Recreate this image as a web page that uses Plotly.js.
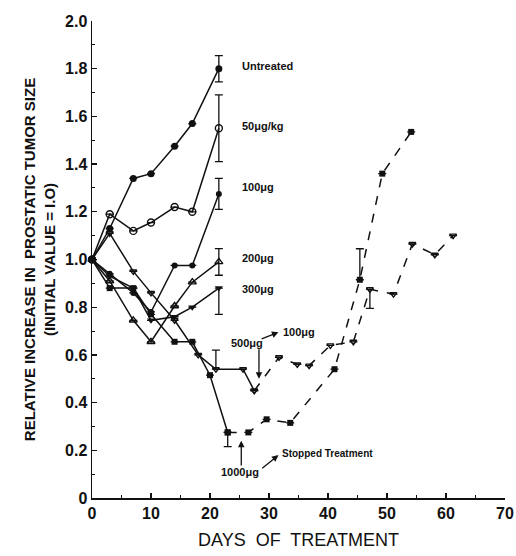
<!DOCTYPE html>
<html>
<head>
<meta charset="utf-8">
<script src="https://cdn.plot.ly/plotly-3.0.1.min.js"></script>
<style>html,body{margin:0;padding:0;background:#fff;}#chart{width:516px;height:556px;}</style>
</head>
<body>
<div id="chart"></div>
<script>
// ---- data ----
const untreatedDays = [0, 3, 7, 10, 14, 17, 21.5];
const untreatedVals = [1.0, 1.13, 1.34, 1.36, 1.475, 1.57, 1.80];
const untreatedErr  = [0, 0, 0, 0, 0, 0, 0.055];

const d50Days = [0, 3, 7, 10, 14, 17, 21.5];
const d50Vals = [1.0, 1.19, 1.12, 1.155, 1.22, 1.20, 1.55];
const d50Err  = [0, 0, 0, 0, 0, 0, 0.14];

const d100Days = [0, 3, 7, 10, 14, 17, 21.5];
const d100Vals = [1.0, 0.94, 0.86, 0.78, 0.975, 0.975, 1.275];
const d100Err  = [0, 0, 0, 0, 0, 0, 0.065];

const d200Days = [0, 3, 7, 10, 14, 17, 21.5];
const d200Vals = [1.0, 0.91, 0.745, 0.655, 0.805, 0.905, 0.99];
const d200Err  = [0, 0, 0, 0, 0, 0, 0.056];

const d300Days = [0, 3, 7, 10, 14, 17, 21.5];
const d300Vals = [1.0, 0.93, 0.88, 0.745, 0.76, 0.80, 0.88];
const d300ErrMinus = [0, 0, 0, 0, 0, 0, 0.11];

const d500Days = [0, 3, 7, 10, 14, 18, 21, 25.6, 27.5];
const d500Vals = [1.0, 1.11, 0.95, 0.86, 0.745, 0.60, 0.54, 0.54, 0.45];
const d500ErrPlus = [0, 0, 0, 0, 0, 0, 0.08, 0, 0];

const d500to100Days = [27.5, 31.7, 34.8, 36.8, 40.4, 44.3, 47.1, 51.1, 54.3, 58.1, 61.2];
const d500to100Vals = [0.45, 0.59, 0.56, 0.555, 0.64, 0.655, 0.875, 0.855, 1.065, 1.02, 1.10];
const d500to100ErrMinus = [0, 0, 0, 0, 0, 0, 0.08, 0, 0, 0, 0];

const d1000Days = [0, 3, 7, 10, 14, 17, 20, 23];
const d1000Vals = [1.0, 0.88, 0.88, 0.77, 0.655, 0.655, 0.515, 0.275];
const d1000ErrMinus = [0, 0, 0, 0, 0, 0, 0, 0.06];

const stoppedDays = [23, 26.5, 29.6, 33.6, 41.1, 45.4, 49.2, 54.1];
const stoppedVals = [0.275, 0.275, 0.33, 0.315, 0.54, 0.915, 1.36, 1.535];
const stoppedErrPlus = [0, 0, 0, 0, 0, 0.13, 0, 0];

const yTickVals = [0, 0.2, 0.4, 0.6, 0.8, 1.0, 1.2, 1.4, 1.6, 1.8, 2.0];
const yTickText = ['0', '0.2', '0.4', '0.6', '0.8', '1.0', '1.2', '1.4', '1.6', '1.8', '2.0'];
const xTickVals = [0, 10, 20, 30, 40, 50, 60, 70];
const xTickText = ['0', '10', '20', '30', '40', '50', '60', '70'];

// ---- drawing ----
const K = '#111';
function errSym(arr) {
  return {type: 'data', array: arr, symmetric: true, visible: true, width: 4, thickness: 1.3, color: K};
}
function errAsym(plus, minus) {
  return {type: 'data', array: plus, arrayminus: minus, symmetric: false, visible: true, width: 4, thickness: 1.3, color: K};
}
const zeros = n => new Array(n).fill(0);

function tr(x, y, sym, size, dash, err, name) {
  const open = sym.indexOf('open') >= 0;
  return {
    x: x, y: y, type: 'scatter', mode: 'lines+markers', name: name,
    line: {color: K, width: 1.5, dash: dash},
    marker: {symbol: sym, size: size, color: K, line: {color: K, width: open ? 1.4 : 0}},
    error_y: err, cliponaxis: false, showlegend: false
  };
}

const data = [
  tr(d1000Days, d1000Vals, 'square', 6, 'solid', errAsym(zeros(d1000Days.length), d1000ErrMinus), '1000µg'),
  tr(stoppedDays, stoppedVals, 'square', 6, 'dash', errAsym(stoppedErrPlus, zeros(stoppedDays.length)), 'stopped'),
  tr(d500Days, d500Vals, 'triangle-down-open', 6, 'solid', errAsym(d500ErrPlus, zeros(d500Days.length)), '500µg'),
  tr(d500to100Days, d500to100Vals, 'triangle-down-open', 6, 'dash', errAsym(zeros(d500to100Days.length), d500to100ErrMinus), '500→100µg'),
  tr(d300Days, d300Vals, 'triangle-down', 7, 'solid', errAsym(zeros(d300Days.length), d300ErrMinus), '300µg'),
  tr(d200Days, d200Vals, 'triangle-up-open', 7, 'solid', errSym(d200Err), '200µg'),
  tr(d100Days, d100Vals, 'circle', 6, 'solid', errSym(d100Err), '100µg'),
  tr(d50Days, d50Vals, 'circle-open', 7, 'solid', errSym(d50Err), '50µg/kg'),
  tr(untreatedDays, untreatedVals, 'circle', 7, 'solid', errSym(untreatedErr), 'Untreated')
];

const lblFont = {family: 'Liberation Sans, Arial, sans-serif', size: 11, color: K, weight: 'bold'};
function lbl(x, y, text) {
  return {x: x, y: y, xref: 'x', yref: 'y', text: text, showarrow: false, xanchor: 'left', yanchor: 'middle', font: lblFont};
}

const layout = {
  width: 516, height: 556,
  margin: {l: 92, r: 11, t: 21, b: 58},
  paper_bgcolor: '#fff', plot_bgcolor: '#fff',
  font: {family: 'Liberation Sans, Arial, sans-serif', color: K},
  xaxis: {
    range: [0, 70], tickvals: xTickVals, ticktext: xTickText,
    showgrid: false, zeroline: false, showline: true, linecolor: K, linewidth: 1.5,
    ticks: 'inside', ticklen: 5, tickwidth: 1.3, tickcolor: K,
    minor: {dtick: 5, ticks: 'inside', ticklen: 3, tickcolor: K, tickwidth: 1},
    tickfont: {size: 16, color: K, weight: 'bold'},
    title: {text: 'DAYS  OF  TREATMENT', font: {size: 18, color: K}, standoff: 12}
  },
  yaxis: {
    range: [0, 2.0], tickvals: yTickVals, ticktext: yTickText,
    showgrid: false, zeroline: false, showline: true, linecolor: K, linewidth: 1.5,
    ticks: 'inside', ticklen: 5, tickwidth: 1.3, tickcolor: K,
    minor: {dtick: 0.1, ticks: 'inside', ticklen: 3, tickcolor: K, tickwidth: 1},
    tickfont: {size: 16, color: K, weight: 'bold'},
    title: {text: 'RELATIVE INCREASE IN  PROSTATIC TUMOR SIZE<br>(INITIAL VALUE = I.O)', font: {size: 15, color: K, weight: 'bold'}, standoff: 6}
  },
  annotations: [
    lbl(25, 1.81, 'Untreated'),
    lbl(25, 1.56, '50μg/kg'),
    lbl(25, 1.305, '100μg'),
    lbl(25, 1.005, '200μg'),
    lbl(25, 0.875, '300μg'),
    lbl(23.3, 0.65, '500μg'),
    lbl(32, 0.695, '100μg'),
    lbl(21.5, 0.11, '1000μg'),
    {x: 31.8, y: 0.185, xref: 'x', yref: 'y', text: 'Stopped Treatment', showarrow: false, xanchor: 'left', yanchor: 'middle',
     font: {family: 'Liberation Sans, Arial, sans-serif', size: 10, color: K, weight: 'bold'}},
    {x: 28.3, y: 0.50, ax: 28.3, ay: 0.63, xref: 'x', yref: 'y', axref: 'x', ayref: 'y', text: '', showarrow: true, arrowhead: 2, arrowsize: 1, arrowwidth: 1.3, arrowcolor: K},
    {x: 31.6, y: 0.695, ax: 28.5, ay: 0.665, xref: 'x', yref: 'y', axref: 'x', ayref: 'y', text: '', showarrow: true, arrowhead: 2, arrowsize: 1, arrowwidth: 1.3, arrowcolor: K},
    {x: 25.3, y: 0.24, ax: 25.3, ay: 0.13, xref: 'x', yref: 'y', axref: 'x', ayref: 'y', text: '', showarrow: true, arrowhead: 2, arrowsize: 1, arrowwidth: 1.3, arrowcolor: K},
    {x: 31.6, y: 0.18, ax: 28.6, ay: 0.12, xref: 'x', yref: 'y', axref: 'x', ayref: 'y', text: '', showarrow: true, arrowhead: 2, arrowsize: 1, arrowwidth: 1.3, arrowcolor: K}
  ]
};

Plotly.newPlot('chart', data, layout, {staticPlot: true, displayModeBar: false});
</script>
</body>
</html>
